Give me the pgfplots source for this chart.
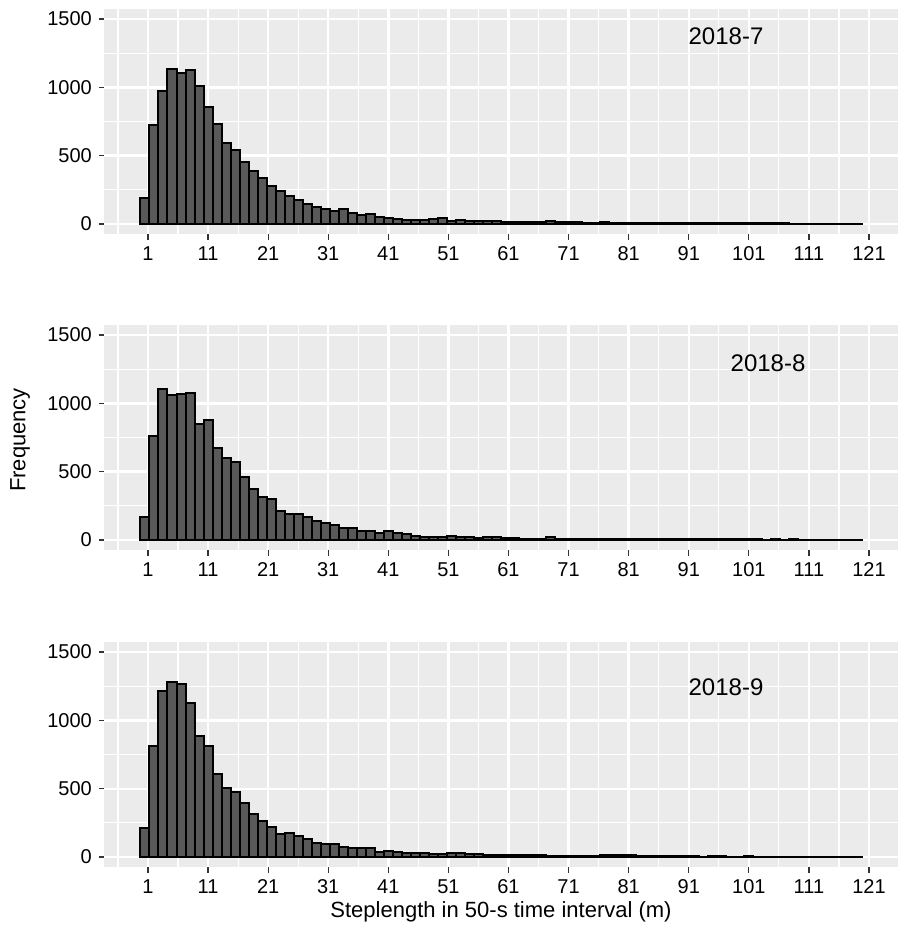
\documentclass[border=0pt]{standalone}
\usepackage{pgfplots}
\pgfplotsset{compat=1.18}
\usepackage{pgfplotstable}
\usepackage{fontspec}
\setmainfont{Liberation Sans}

\definecolor{panelbg}{HTML}{EBEBEB}
\definecolor{barfill}{HTML}{595959}
\definecolor{tickcol}{HTML}{333333}

% bin centre, counts for 2018-7, 2018-8, 2018-9 (bin width 1.5 m)
\pgfplotstableread{
x a b c
0.5 190 166 216
2 722 764 816
3.5 972 1103 1213
5 1135 1059 1281
6.5 1105 1071 1264
8 1128 1076 1129
9.5 1008 847 889
11 853 878 816
12.5 735 676 610
14 596 603 502
15.5 538 569 473
17 457 464 399
18.5 386 371 314
20 335 312 265
21.5 278 303 223
23 243 212 167
24.5 207 190 179
26 172 190 154
27.5 146 171 130
29 122 139 105
30.5 110 124 96
32 92 112 93
33.5 110 90 76
35 82 85 66
36.5 68 66 66
38 76 66 64
39.5 48 49 39
41 46 66 47
42.5 36 52 36
44 30 45 30
45.5 30 28 28
47 28 20 28
48.5 38 20 22
50 42 24 20
51.5 24 26 32
53 30 22 28
54.5 24 20 24
56 24 14 25
57.5 20 22 16
59 22 20 15
60.5 18 16 15
62 16 14 17
63.5 16 9 12
65 16 9 16
66.5 15 8 16
68 20 22 10
69.5 18 10 10
71 12 10 9
72.5 12 10 6
74 11 9 6
75.5 10 7 6
77 16 6 12
78.5 10 7 12
80 9 6 14
81.5 8 5 16
83 8 6 10
84.5 9 5 6
86 7 6 5
87.5 6 5 5
89 7 6 6
90.5 6 5 5
92 5 4 6
93.5 5 5 4
95 4 6 5
96.5 4 5 5
98 4 4 4
99.5 5 4 4
101 6 5 5
102.5 6 4 4
104 5 3 4
105.5 4 4 3
107 5 3 4
108.5 3 4 3
110 3 3 3
111.5 3 3 4
113 2 2 3
114.5 2 3 3
116 2 2 2
117.5 2 2 2
119 2 2 2
}\steps

\pgfplotsset{
  panel/.style={
    scale only axis,
    width=396.55bp, height=112.75bp,
    xmin=-6.25, xmax=125.75,
    ymin=-75, ymax=1575,
    xtick={1,11,...,121},
    ytick={0,500,1000,1500},
    minor xtick={-4,6,...,116},
    minor ytick={250,750,1250},
    grid=both,
    major grid style={white, line width=1.2bp},
    minor grid style={white, line width=0.6bp},
    axis background/.style={fill=panelbg},
    axis line style={draw=none},
    tick pos=left, tick align=outside,
    major tick length=2.75bp, minor tick length=0pt,
    tick style={tickcol, line width=0.6bp},
    ticklabel style={font=\fontsize{10bp}{12bp}\selectfont, text=black},
    /pgf/number format/assume math mode=true,
    /pgf/number format/set thousands separator={},
    ybar, bar width=1.5,
    anchor=north west,
  },
  bars/.style={fill=barfill, draw=black, line width=1bp},
}

\begin{document}
\begin{tikzpicture}
\path[use as bounding box] (-52.2bp,4.375bp) rectangle (397.3bp,-463.1bp);

\begin{axis}[panel, at={(0bp,0bp)}]
  \addplot[bars] table[x=x, y=a] {\steps};
  \node[font=\fontsize{12bp}{14bp}\selectfont] at (axis cs:97.2,1375) {2018-7};
\end{axis}

\begin{axis}[panel, at={(0bp,-157.98bp)}]
  \addplot[bars] table[x=x, y=b] {\steps};
  \node[font=\fontsize{12bp}{14bp}\selectfont] at (axis cs:104.2,1296) {2018-8};
\end{axis}

\begin{axis}[panel, at={(0bp,-316.5bp)}]
  \addplot[bars] table[x=x, y=c] {\steps};
  \node[font=\fontsize{12bp}{14bp}\selectfont] at (axis cs:97.2,1244) {2018-9};
\end{axis}

\node[rotate=90, font=\fontsize{11bp}{13bp}\selectfont] at (-42.2bp,-215.6bp) {Frequency};
\node[font=\fontsize{11bp}{13bp}\selectfont] at (198.3bp,-451.6bp) {Steplength in 50-s time interval (m)};
\end{tikzpicture}
\end{document}
